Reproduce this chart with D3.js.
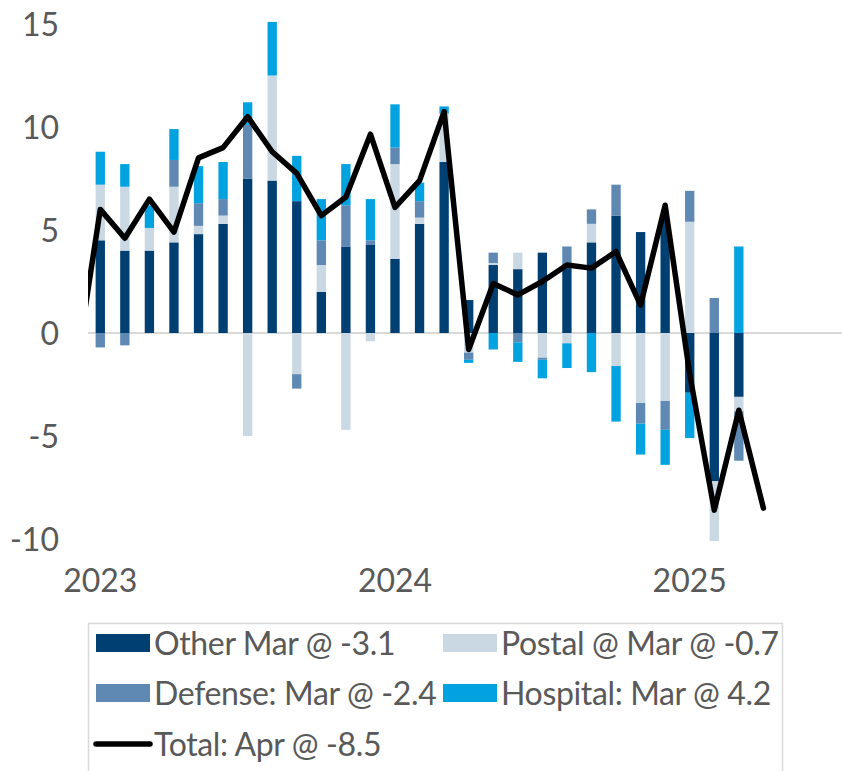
<!DOCTYPE html>
<html>
<head>
<meta charset="utf-8">
<script src="https://cdn.jsdelivr.net/npm/d3@7"></script>
<style>
  html, body { margin: 0; padding: 0; background: #fff; }
  svg { display: block; font-family: Lato, "Open Sans", sans-serif; }
</style>
</head>
<body>
<svg id="chart" width="842" height="771"></svg>
<script>
// ---- Data ----
const barMonths = ["2023-01","2023-02","2023-03","2023-04","2023-05","2023-06","2023-07","2023-08","2023-09","2023-10","2023-11","2023-12",
                   "2024-01","2024-02","2024-03","2024-04","2024-05","2024-06","2024-07","2024-08","2024-09","2024-10","2024-11","2024-12",
                   "2025-01","2025-02","2025-03"];
const other    = [4.5, 4.0, 4.0, 4.4, 4.8, 5.3, 7.5, 7.4, 6.4, 2.0, 4.2, 4.3, 3.6, 5.3, 8.3, 1.6, 3.3, 3.1, 3.9, 3.15, 4.4, 5.7, 4.9, 5.5, -2.9, -7.2, -3.1];
const postal   = [2.7, 3.1, 1.1, 2.7, 0.4, 0.4, -5.0, 5.1, -2.0, 1.3, -4.7, -0.4, 4.6, 0.3, 2.35, -0.95, 0.1, 0.8, -1.2, -0.5, 0.9, -1.6, -3.4, -3.3, 5.4, -2.9, -0.7];
const defense  = [-0.7, -0.6, 0, 1.3, 1.1, 0.8, 2.6, 0, -0.7, 1.2, 2.0, 0.2, 0.8, 0.8, 0, -0.35, 0.5, -0.45, -0.1, 1.05, 0.7, 1.5, -1.0, -1.4, 1.5, 1.7, -2.4];
const hospital = [1.6, 1.1, 1.1, 1.5, 1.8, 1.8, 1.1, 2.6, 2.2, 2.0, 2.0, 2.0, 2.1, 0.9, 0.35, -0.15, -0.8, -0.95, -0.9, -1.2, -1.9, -2.7, -1.5, -1.7, -2.2, 0, 4.2];

const lineMonths = ["2022-12","2023-01","2023-02","2023-03","2023-04","2023-05","2023-06","2023-07","2023-08","2023-09","2023-10","2023-11","2023-12",
                    "2024-01","2024-02","2024-03","2024-04","2024-05","2024-06","2024-07","2024-08","2024-09","2024-10","2024-11","2024-12",
                    "2025-01","2025-02","2025-03","2025-04"];
const total = [-1.8, 6.0, 4.6, 6.5, 4.9, 8.5, 9.0, 10.5, 8.8, 7.75, 5.7, 6.6, 9.65, 6.1, 7.4, 10.75, -0.8, 2.4, 1.85, 2.5, 3.3, 3.15, 3.95, 1.35, 6.2, -2.0, -8.6, -3.75, -8.5];

// full category axis (Dec 2022 sits left of the visible plot and is clipped)
const axisMonths = ["2022-12", ...barMonths, "2025-04","2025-05","2025-06","2025-07"];
const yTicks = [15, 10, 5, 0, -5, -10];
const yearLabels = [{m: "2023-01", label: "2023"}, {m: "2024-01", label: "2024"}, {m: "2025-01", label: "2025"}];

const seriesKeys = ["other", "postal", "defense", "hospital"];
const seriesColors = {other: "#003F72", postal: "#CAD8E4", defense: "#5F89B3", hospital: "#00A3E0"};
const legendItems = [
  {key: "other",    label: "Other Mar @ -3.1"},
  {key: "postal",   label: "Postal @ Mar @ -0.7"},
  {key: "defense",  label: "Defense: Mar @ -2.4"},
  {key: "hospital", label: "Hospital: Mar @ 4.2"},
  {key: "total",    label: "Total: Apr @ -8.5"}
];

// ---- Layout ----
const svg = d3.select("#chart");
const plotLeft = 88, plotRight = 842, plotTop = 24, plotBottom = 539;
const step = 24.56;
const textColor = "#595959";

const x = d3.scaleBand()
  .domain(axisMonths)
  .range([plotLeft - step, plotLeft - step + step * axisMonths.length])
  .paddingInner(0.62)
  .paddingOuter(0.31);
const y = d3.scaleLinear().domain([-10, 15]).range([plotBottom, plotTop]);

const rows = barMonths.map((m, i) => ({m, other: other[i], postal: postal[i], defense: defense[i], hospital: hospital[i]}));
const stacked = d3.stack().keys(seriesKeys).offset(d3.stackOffsetDiverging)(rows);

svg.append("defs").append("clipPath").attr("id", "plotClip")
  .append("rect").attr("x", plotLeft).attr("y", 0).attr("width", plotRight - plotLeft).attr("height", 771);

// Y axis labels
svg.append("g").selectAll("text").data(yTicks).join("text")
  .attr("x", 59).attr("y", d => y(d))
  .attr("dy", "0.36em")
  .attr("text-anchor", "end")
  .attr("font-size", 32).attr("fill", textColor)
  .text(d => d);

// zero line
svg.append("line")
  .attr("x1", plotLeft).attr("x2", plotRight)
  .attr("y1", y(0)).attr("y2", y(0))
  .attr("stroke", "#D9D9D9").attr("stroke-width", 2);

// bars
const gBars = svg.append("g");
stacked.forEach(s => {
  gBars.append("g").attr("fill", seriesColors[s.key])
    .selectAll("rect").data(s).join("rect")
    .attr("x", d => x(d.data.m))
    .attr("width", x.bandwidth())
    .attr("y", d => y(Math.max(d[0], d[1])))
    .attr("height", d => Math.abs(y(d[0]) - y(d[1])));
});

// total line
const lineGen = d3.line()
  .x((d, i) => x(lineMonths[i]) + x.bandwidth() / 2)
  .y(d => y(d));
svg.append("path")
  .datum(total)
  .attr("clip-path", "url(#plotClip)")
  .attr("d", lineGen)
  .attr("fill", "none")
  .attr("stroke", "#000")
  .attr("stroke-width", 5.5)
  .attr("stroke-linejoin", "round")
  .attr("stroke-linecap", "round");

// X axis labels
svg.append("g").selectAll("text").data(yearLabels).join("text")
  .attr("x", d => x(d.m) + x.bandwidth() / 2)
  .attr("y", 592)
  .attr("text-anchor", "middle")
  .attr("font-size", 32).attr("fill", textColor)
  .text(d => d.label);

// Legend
const lg = svg.append("g");
lg.append("rect")
  .attr("x", 88.5).attr("y", 623.5).attr("width", 694).attr("height", 160)
  .attr("fill", "#fff").attr("stroke", "#D9D9D9").attr("stroke-width", 1.5);
const legendPos = [
  {x: 96, y: 643}, {x: 443, y: 643},
  {x: 96, y: 693}, {x: 443, y: 693},
  {x: 96, y: 744}
];
legendItems.forEach((it, i) => {
  const p = legendPos[i];
  if (it.key === "total") {
    lg.append("line").attr("x1", p.x).attr("x2", p.x + 54).attr("y1", p.y).attr("y2", p.y)
      .attr("stroke", "#000").attr("stroke-width", 5.5).attr("stroke-linecap", "round");
  } else {
    lg.append("rect").attr("x", p.x).attr("y", p.y - 9).attr("width", 54).attr("height", 18)
      .attr("fill", seriesColors[it.key]);
  }
  lg.append("text").attr("x", p.x + 58).attr("y", p.y).attr("dy", "0.36em")
    .attr("font-size", 32).attr("letter-spacing", -0.35)
    .attr("fill", textColor).text(it.label);
});
</script>
</body>
</html>
